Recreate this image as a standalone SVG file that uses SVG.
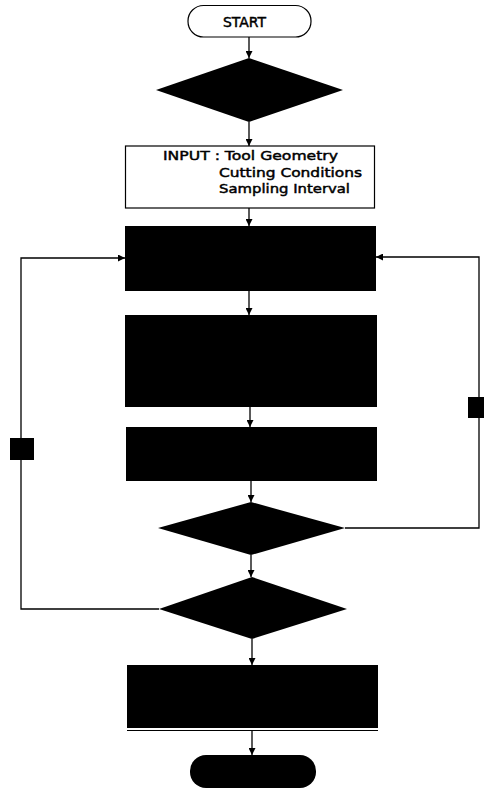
<svg xmlns="http://www.w3.org/2000/svg" width="484" height="789" viewBox="0 0 484 789">
<defs>
<style>
.ln{fill:none;stroke:#000;stroke-width:1.3}
.blk{fill:#000;stroke:none}
.wb{fill:#fff;stroke:#000;stroke-width:1.2}
.tx{font-family:"DejaVu Sans","Liberation Sans",Arial,sans-serif;font-size:12.5px;fill:#000;stroke:#000;stroke-width:0.45}
</style>
<marker id="ah" markerUnits="userSpaceOnUse" markerWidth="7" markerHeight="7" viewBox="0 0 7 7" refX="7" refY="3.5" orient="auto">
<path d="M0,0 L7,3.5 L0,7 z" fill="#000"/>
</marker>
</defs>
<rect width="484" height="789" fill="#fff"/>
<g id="connectors">
<path class="ln" d="M249,37 V58" marker-end="url(#ah)"/>
<path class="ln" d="M249,122 V146" marker-end="url(#ah)"/>
<path class="ln" d="M249,208 V226" marker-end="url(#ah)"/>
<path class="ln" d="M249,291 V315" marker-end="url(#ah)"/>
<path class="ln" d="M250,407 V427" marker-end="url(#ah)"/>
<path class="ln" d="M251,481 V502" marker-end="url(#ah)"/>
<path class="ln" d="M251,555 V577" marker-end="url(#ah)"/>
<path class="ln" d="M252,639 V665" marker-end="url(#ah)"/>
<path class="ln" d="M252,731 V755" marker-end="url(#ah)"/>
<path class="ln" d="M159,609 H21 V258 H125" marker-end="url(#ah)"/>
<path class="ln" d="M345,528 H479 V257 H376" marker-end="url(#ah)"/>
</g>
<g id="start">
<rect class="wb" x="188" y="5.5" width="123" height="31.5" rx="15.5"/>
<text class="tx" x="223" y="27" textLength="43" lengthAdjust="spacingAndGlyphs" style="font-size:13.5px">START</text>
</g>
<g id="decision1"><polygon class="blk" points="249,58 343,90 249,122 156,90"/></g>
<g id="input">
<rect class="wb" x="125.5" y="146" width="249" height="62"/>
<text class="tx" x="163" y="160" textLength="175" lengthAdjust="spacingAndGlyphs">INPUT : Tool Geometry</text>
<text class="tx" x="219" y="177" textLength="143" lengthAdjust="spacingAndGlyphs">Cutting Conditions</text>
<text class="tx" x="219" y="193" textLength="131" lengthAdjust="spacingAndGlyphs">Sampling Interval</text>
</g>
<g id="process1"><rect class="blk" x="125" y="226" width="251" height="65"/></g>
<g id="process2"><rect class="blk" x="125" y="315" width="252" height="92"/></g>
<g id="process3"><rect class="blk" x="126" y="427" width="251" height="54"/></g>
<g id="decision2"><polygon class="blk" points="251,502 345,528 251,555 158,528"/></g>
<g id="decision3"><polygon class="blk" points="252,577 347,609 252,639 159,609"/></g>
<g id="process4">
<rect class="blk" x="127" y="665" width="251" height="63"/>
<line x1="127" y1="730.5" x2="378" y2="730.5" stroke="#000" stroke-width="1.2"/>
</g>
<g id="end"><rect class="blk" x="190" y="755" width="126" height="33" rx="16"/></g>
<g id="label-left"><rect class="blk" x="10" y="438" width="24" height="22"/></g>
<g id="label-right"><rect class="blk" x="468" y="397" width="16" height="21"/></g>
</svg>
